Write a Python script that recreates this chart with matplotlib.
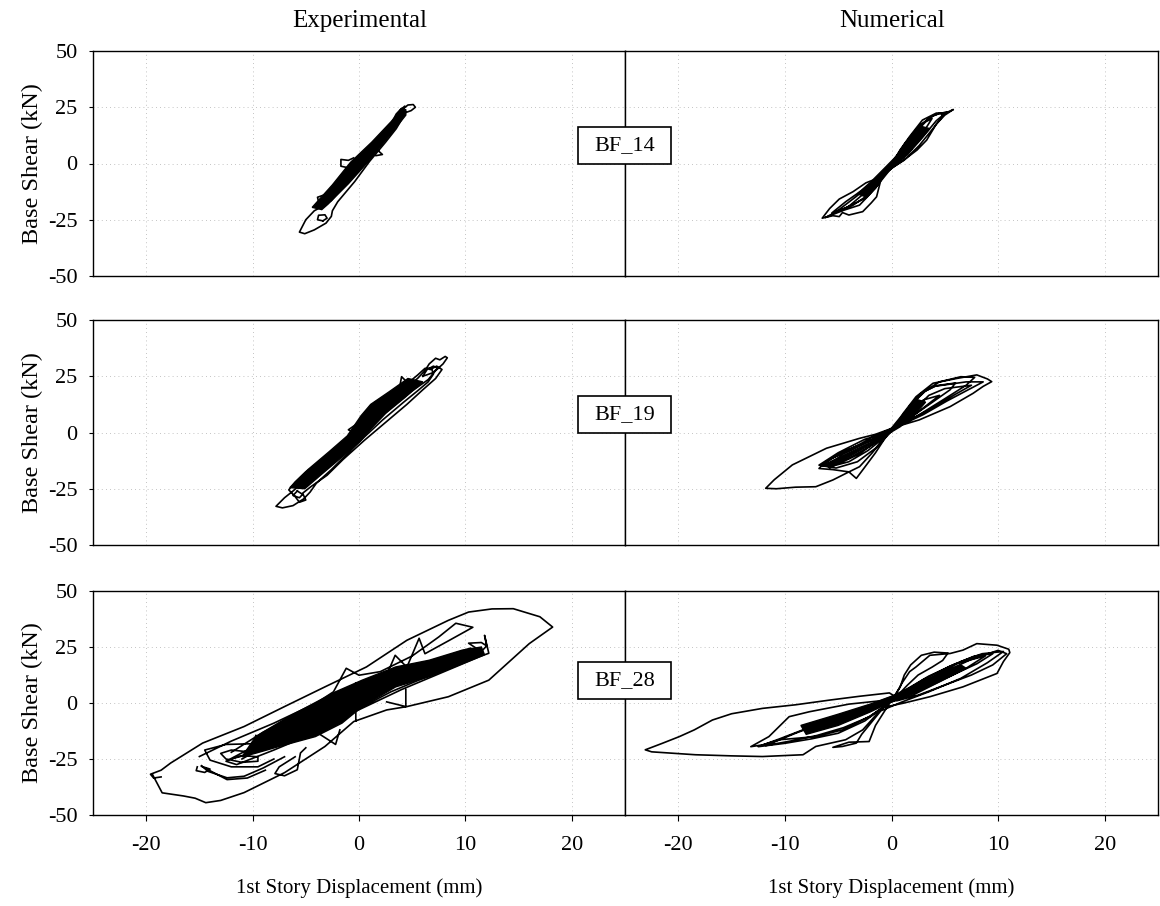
import numpy as np
import matplotlib
matplotlib.use("Agg")
import matplotlib.pyplot as plt
from matplotlib.patches import Rectangle

nan = float("nan")

# ---------------- data (displacement mm, base shear kN) ----------------
x_ticks = [-20, -10, 0, 10, 20]
y_ticks = [-50, -25, 0, 25, 50]
column_titles = ["Experimental", "Numerical"]
specimen_labels = ["BF_14", "BF_19", "BF_28"]

# BF_14 experimental
bf14_exp_x = [0.2, 2.0, 3.6, 4.2, 4.6, 5.1, 5.3, 4.9, 4.3, 3.4, 2.2, 0.5, -1.2, -2.6, -3.3, -2.6, -1.0, 0.8, 2.6, 3.9, 4.3, 3.9, 2.9, 1.2, -0.6, -2.2, -3.4, -4.2, -5.0, -5.6, -5.1, -4.2, -3.1, -2.6, -2.5, -2.0, -0.4, 1.0, 2.5, 3.5, 4.0, 3.5, 2.7, 1.9, 1.2, 0.8,
              nan, -3.4, -3.9, -3.8, -3.2, -3.0, -3.4,
              nan, -0.9, -1.7, -1.7, -1.0, -0.5,
              nan, -3.3, -3.9, -3.8, -3.4,
              nan, 1.5, 2.2, 1.6,
              nan, 4.4, 4.0, 3.5, 3.0, 3.6, 4.4]
bf14_exp_y = [1.5, 11.5, 20.5, 24.5, 26.0, 26.2, 25.0, 23.5, 22.5, 17.0, 10.0, 0.5, -8.0, -15.5, -18.5, -16.5, -7.5, 3.0, 13.5, 22.0, 25.5, 23.8, 16.5, 6.5, -3.5, -12.5, -19.0, -21.0, -25.0, -30.5, -31.2, -29.5, -26.5, -23.5, -21.0, -17.0, -8.0, 1.0, 9.5, 15.5, 19.5, 19.8, 15.5, 10.2, 6.0, 4.5,
              nan, -25.5, -25.0, -23.0, -22.8, -24.3, -25.5,
              nan, -2.0, -1.2, 1.8, 1.4, 2.5,
              nan, -14.0, -15.0, -17.0, -17.5,
              nan, 7.0, 4.0, 3.5,
              nan, 22.8, 24.5, 22.0, 17.5, 18.5, 22.8]
bf14_exp_core_x = [-4.4, -2.5, -0.8, 1.2, 3.0, 3.9, 4.4, 4.4, 2.8, 0.9, -1.0, -2.9, -3.5]
bf14_exp_core_y = [-19.5, -9.5, 0.5, 9.5, 18.5, 23.5, 24.0, 21.5, 12.0, 1.0, -9.0, -18.0, -20.5]

# BF_14 numerical
bf14_num_x = [0.0, 1.2, 2.2, 1.5, 0.3, -1.0, -2.2, -1.4, 0.0,
              1.0, 2.2, 3.2, 3.8, 3.0, 1.8, 0.5, -1.0, -2.5, -4.0, -4.6, -3.6, -2.2, -1.0, 0.0,
              0.8, 1.7, 2.9, 4.2, 5.1, 5.8, 5.0, 4.2, 3.3, 2.4, 1.4, 0.2, -1.0, -2.4, -3.6, -4.9, -5.8, -6.5, -5.5, -4.9, -4.6, -4.0, -2.7, -1.9, -1.4, -1.0, -0.4, 0.4,
              1.2, 2.3, 3.6, 4.6, 4.8, 3.8, 2.6, 1.2, -0.3, -1.8, -3.4, -5.2, -6.2, -4.5, -3.0, -2.0, -1.2, -0.2, 1.0, 2.0, 2.8, 4.0, 5.2, 4.2, 2.8, 1.5, 0.3, -1.3, -2.8, -4.3, -5.6, -4.2, -2.5, -1.5, -0.5, 0.5]
bf14_num_y = [0.0, 6.0, 11.0, 7.0, 1.0, -5.0, -10.5, -8.0, -1.0,
              6.5, 13.5, 18.5, 20.0, 14.0, 6.0, 0.0, -6.5, -13.0, -19.0, -20.5, -18.5, -14.0, -7.0, -1.0,
              6.0, 12.0, 19.3, 22.4, 22.5, 24.0, 21.5, 17.5, 10.4, 6.0, 2.4, -1.5, -6.0, -8.6, -12.5, -15.8, -20.0, -24.3, -23.2, -23.6, -21.8, -22.9, -21.4, -17.5, -14.8, -7.3, -2.5, 2.0,
              8.5, 15.0, 20.5, 22.5, 21.0, 15.0, 8.0, 1.5, -3.0, -9.0, -15.0, -21.5, -24.0, -20.8, -18.5, -13.5, -9.0, -1.0, 7.0, 13.0, 17.5, 21.5, 23.0, 19.0, 11.0, 4.0, -0.5, -7.0, -12.0, -17.0, -22.0, -19.5, -15.5, -11.0, -4.0, 3.0]
bf14_num_core_x = [-3.2, -1.9, -0.6, 0.5, 1.7, 2.8, 3.6, 2.5, 1.1, 0.0, -1.1, -2.3]
bf14_num_core_y = [-13.5, -8.0, -1.8, 3.5, 10.5, 16.5, 15.5, 9.5, 3.0, -2.0, -8.5, -15.0]

# BF_19 experimental
bf19_exp_x = [0.0, 2.0, 4.0, 5.5, 6.2, 6.6, 7.2, 7.6, 8.1, 8.3, 7.9, 7.2, 6.5, 5.0, 3.0, 1.2, -0.8, -3.0, -5.0, -6.2, -7.0, -7.8, -7.2, -6.2, -5.2, -4.6, -4.0, -2.6, -0.8, 0.5, 2.2, 4.2, 5.5, 6.5, 7.0, 6.8, 6.2, 5.5, 4.6, 4.0, 3.8, 3.0, 2.5, 1.5, 0.8, 0.0, -1.0, -0.5, -1.5, -3.5, -5.0, -6.0, -6.6, -6.0, -5.6, -5.0, -5.3, -4.5, -3.0, -1.5, 0.5, 2.5, 4.5, 6.0, 7.2, 7.8, 7.3, 6.7,
              nan, -5.8, -6.2, -5.6, -5.3, -5.8,
              nan, 6.0, 6.4, 7.0, 7.4, 6.9, 6.0]
bf19_exp_y = [1.0, 10.0, 18.5, 24.0, 27.5, 30.5, 33.0, 32.3, 33.8, 33.2, 30.5, 27.5, 23.5, 18.5, 11.0, 3.0, -5.0, -13.5, -21.0, -26.0, -29.0, -32.8, -33.5, -32.5, -29.5, -26.5, -22.5, -16.5, -8.0, -2.0, 5.5, 13.5, 18.5, 22.5, 26.0, 28.5, 28.5, 25.5, 22.0, 24.8, 19.5, 16.5, 15.5, 13.5, 9.0, 4.5, 1.2, 0.0, -5.0, -12.5, -17.5, -22.0, -25.5, -28.5, -31.0, -30.0, -27.0, -24.0, -19.0, -12.0, -3.5, 4.5, 12.5, 19.0, 24.0, 28.0, 29.5, 28.0,
              nan, -26.0, -28.0, -29.0, -27.5, -26.0,
              nan, 25.0, 28.0, 29.5, 28.5, 26.5, 25.0]
bf19_exp_core_x = [-6.5, -4.8, -2.8, -1.1, 0.2, 1.1, 2.8, 4.6, 6.0, 4.3, 2.5, 1.1, 0.1, -1.5, -3.5, -5.1]
bf19_exp_core_y = [-24.5, -16.5, -8.5, -1.5, 7.5, 12.5, 18.0, 24.0, 22.5, 15.5, 8.5, 1.5, -4.0, -10.5, -18.5, -25.0]

# BF_19 numerical
bf19_num_x = [0.4, 1.1, 2.3, 3.9, 6.1, 8.0, 9.0, 9.4, 8.6, 7.65, 5.5, 2.6, 0.4, -1.5, -3.0, -6.1, -9.3, -11.0, -11.8, -10.8, -9.0, -7.1, -5.5, -4.2, -3.0, -1.8, -1.1, -0.3, 0.4,
              1.5, 2.8, 4.5, 6.5, 7.8, 7.0, 5.0, 2.8, 0.4, -2.0, -4.5, -6.3, -6.8, -5.5, -4.0, -3.3, -2.6, -1.5, -0.4,
              1.3, 2.2, 3.2, 4.0, 5.5, 7.0, 8.6, 7.2, 5.2, 3.0, 1.0, -1.0, -3.5, -5.5, -6.5, -5.6, -4.0, -2.2, -0.5, 1.0, 2.2, 3.0, 4.5, 3.0, 1.2, -0.5, -2.5, -4.5, -5.8, -4.0, -2.0, -0.8, 0.4,
              1.8, 3.0, 4.2, 6.0, 5.5, 4.0, 2.2, 0.4, -1.8, -3.8, -6.0, -6.6, -5.0, -3.0, -1.4,
              0.0, -2.5, -5.0, -6.8, -5.2, -3.2, -1.5, 0.0, 2.0, 3.5, 5.0, 7.5, 6.0, 3.5, 1.5]
bf19_num_y = [3.0, 8.5, 15.9, 21.9, 24.0, 25.6, 23.8, 22.6, 20.5, 17.4, 11.5, 5.6, 2.5, -0.8, -2.6, -7.0, -14.4, -21.0, -24.8, -25.0, -24.3, -24.1, -21.1, -18.0, -15.2, -9.0, -4.8, 0.5, 3.0,
              10.0, 17.5, 22.5, 24.8, 24.5, 21.0, 15.0, 8.5, 2.0, -3.5, -8.5, -13.5, -16.0, -16.5, -17.5, -20.4, -16.0, -9.0, -1.0,
              9.0, 14.0, 18.5, 20.5, 21.5, 22.5, 22.5, 19.0, 14.0, 8.0, 3.5, -1.5, -6.5, -11.0, -15.0, -15.0, -13.0, -8.0, -1.5, 5.5, 11.5, 14.5, 16.5, 11.0, 4.5, -0.5, -5.0, -9.5, -14.0, -11.5, -6.0, -2.0, 3.0,
              12.5, 18.0, 20.8, 22.0, 19.0, 14.0, 8.0, 2.5, -2.0, -7.5, -12.5, -14.8, -14.0, -9.5, -4.0,
              0.5, -3.0, -9.0, -14.5, -15.8, -13.0, -7.0, 0.5, 9.5, 16.5, 19.5, 21.0, 17.0, 10.0, 5.0]
bf19_num_core_x = [-6.2, -4.0, -2.0, 0.0, 1.2, 2.5, 3.2, 2.0, 0.8, -1.5, -3.5, -5.8]
bf19_num_core_y = [-14.0, -9.0, -4.5, 2.0, 9.0, 14.5, 13.5, 7.0, 2.5, -4.0, -9.5, -16.0]

# BF_28 experimental
bf28_exp_x = [-19.4, -18.5, -16.5, -15.4, -14.4, -13.0, -10.8, -7.0, -3.2, -0.5, 2.6, 4.5, 8.4, 12.2, 16.0, 18.2, 17.0, 14.5, 12.5, 10.3, 8.4, 4.5, 0.7, -3.2, -7.0, -10.8, -14.7, -17.7, -18.6, -19.6, -19.3, -18.6,
              nan, -11.0, -8.0, -4.0, 0.0, 4.0, 8.0, 11.5, 12.0, 11.8, 12.2, 11.5, 8.0, 4.0, 0.0, -4.0, -8.0, -11.5, -12.5, -10.5, -7.0, -3.0, 1.0, 5.0, 9.0, 11.0, 10.3, 11.5, 12.0,
              nan, -12.0, -9.0, -5.0, -1.0, 3.0, 7.0, 10.5, 11.0, 7.0, 3.0, -1.0, -5.0, -9.0, -12.0,
              nan, -15.0, -12.0, -8.0, -4.0, -2.4, -1.2, 0.0, 2.0, 5.0, 7.5, 9.1, 10.7, 8.5, 6.2, 5.65, 4.5, 3.4, 2.6,
              nan, -0.3, -0.3,
              nan, 2.6, 4.4, 4.4,
              nan, -10.0, -12.0, -13.0, -12.5, -11.0, -9.5, -9.5, -11.0, -11.8,
              nan, -8.5, -12.5, -14.5, -14.0, -12.0, -9.5, -8.0,
              nan, -14.8, -14.2, -12.4, -10.8, -9.0, -7.0,
              nan, -14.5, -12.4, -10.5, -8.8,
              nan, -15.2, -15.3, -14.5, -14.0, -14.8,
              nan, -5.0, -5.5, -5.8, -7.0, -7.9, -7.5, -6.0,
              nan, -9.7, -9.9, -9.0,
              nan, -4.0, -2.2, -1.8]
bf28_exp_y = [-32.0, -40.1, -41.5, -42.5, -44.5, -43.5, -40.0, -31.1, -19.4, -8.3, -3.1, -1.6, 2.8, 10.2, 26.5, 33.9, 38.5, 42.1, 42.0, 40.6, 36.9, 28.0, 16.1, 7.2, -1.6, -10.5, -17.9, -26.8, -30.0, -31.8, -33.5, -33.0,
              nan, -25.0, -17.0, -8.0, 2.0, 10.0, 17.0, 23.0, 25.5, 30.2, 22.2, 21.0, 14.0, 6.0, -3.0, -13.0, -21.0, -27.5, -26.0, -21.0, -12.0, -2.0, 7.0, 14.0, 20.0, 24.5, 26.7, 27.0, 25.5,
              nan, -22.0, -13.0, -3.0, 7.0, 14.0, 19.0, 24.5, 21.0, 13.0, 5.0, -5.0, -14.0, -21.0, -25.0,
              nan, -23.9, -17.0, -9.0, 0.0, 5.0, 15.5, 12.4, 14.0, 21.0, 29.5, 35.6, 33.8, 28.0, 22.0, 28.9, 16.0, 21.3, 12.5,
              nan, 9.0, -8.0,
              nan, 0.5, -1.6, 6.0,
              nan, -22.0, -21.0, -22.5, -25.0, -26.5, -26.0, -24.0, -23.5, -24.5,
              nan, -18.0, -18.5, -21.0, -25.5, -28.5, -28.5, -25.0,
              nan, -28.0, -30.5, -33.4, -32.7, -29.0, -24.0,
              nan, -29.0, -34.2, -33.5, -30.0,
              nan, -28.5, -30.2, -31.0, -29.5, -28.3,
              nan, -20.0, -22.3, -29.8, -32.5, -31.5, -28.5, -24.0,
              nan, -14.5, -19.5, -20.0,
              nan, -13.0, -18.5, -12.0]
bf28_exp_core_x = [-9.7, -6.6, -2.2, 0.3, 3.45, 6.6, 9.7, 11.5, 11.8, 6.6, 3.45, 0.3, -1.6, -4.1, -7.5, -9.7, -11.0]
bf28_exp_core_y = [-15.0, -6.1, 5.0, 10.2, 16.1, 19.1, 23.6, 25.0, 21.5, 11.7, 7.2, -1.6, -9.0, -15.0, -19.4, -22.4, -24.0]

# BF_28 numerical
bf28_num_x = [0.3, -0.2, -3.0, -5.8, -9.0, -12.1, -15.0, -16.8, -18.5, -19.9, -21.5, -23.1, -22.5, -18.4, -15.0, -12.1, -8.3, -7.1, -4.3, -2.7, -1.2, 0.3,
              1.0, 1.7, 2.3, 3.6, 5.5, 6.7, 8.0, 9.9, 11.0, 11.1, 10.5, 9.9, 6.7, 3.6, 1.1, -0.8, -2.1, -4.6, -7.1, -10.5, -12.1, -13.2, -11.5, -9.6, -7.7, -4.0, -1.0, 1.0, 3.0, 5.0, 6.5, 8.5, 9.5, 10.5, 9.0, 6.5, 3.5, 1.0, -1.0, -2.8, -3.3, -4.6, -5.5, -4.0, -2.1, -1.5, -0.5,
              0.8, 1.2, 1.8, 2.8, 4.0, 5.3, 4.8, 3.8, 2.5, 1.5, 0.5,
              3.0, 5.5, 7.8, 9.5, 8.0, 5.5, 3.0, 0.5,
              -3.0, -6.5, -9.0, -11.8, -9.5, -7.0, -4.5, -2.0, 0.0,
              2.5, 5.0, 7.5, 10.0, 10.8, 9.5, 7.5, 5.0, 2.5, 0.5,
              1.0, 3.5, 6.0, 8.8, 7.0, 4.5, 2.0,
              -1.0, -4.0, -7.5, -10.5, -12.5, -10.0, -7.5, -5.0, -2.5, -0.5]
bf28_num_y = [3.0, 4.5, 3.0, 1.3, -0.8, -2.4, -4.8, -7.6, -12.0, -15.0, -18.0, -20.9, -21.8, -23.1, -23.6, -23.9, -23.1, -19.4, -16.4, -12.0, -4.0, 3.0,
              9.0, 14.0, 16.1, 21.3, 22.1, 23.6, 26.5, 25.8, 24.0, 22.5, 18.5, 13.2, 7.2, 2.8, -0.1, -2.0, -6.1, -12.0, -15.0, -16.4, -18.7, -19.5, -15.0, -6.1, -3.9, -0.5, 1.0, 4.5, 9.5, 14.5, 18.5, 22.0, 22.5, 23.0, 18.0, 11.0, 5.0, 0.5, -3.5, -14.0, -17.9, -19.4, -19.8, -17.5, -17.2, -10.0, -2.5,
              7.0, 12.5, 17.0, 21.3, 22.7, 22.3, 19.0, 16.0, 12.5, 8.0, 3.0,
              10.5, 16.5, 21.0, 22.0, 17.5, 12.0, 7.0, 1.5,
              -4.5, -9.0, -13.5, -19.0, -17.0, -14.5, -11.0, -6.0, 1.0,
              8.5, 14.0, 19.5, 23.5, 22.0, 17.0, 12.5, 8.0, 3.5, 1.0,
              5.0, 12.0, 17.5, 21.0, 15.5, 9.5, 3.5,
              -1.0, -5.5, -10.5, -16.0, -19.5, -18.0, -16.0, -13.5, -8.0, -1.0]
bf28_num_core_x = [-8.5, -5.0, -2.0, 0.0, 2.0, 4.5, 6.5, 7.0, 4.5, 2.0, 0.0, -2.0, -5.0, -8.0]
bf28_num_core_y = [-10.0, -5.0, -0.5, 3.0, 7.5, 13.0, 17.0, 15.5, 9.5, 4.0, 0.5, -4.0, -10.0, -14.0]

panels = [
    [(bf14_exp_x, bf14_exp_y, bf14_exp_core_x, bf14_exp_core_y),
     (bf14_num_x, bf14_num_y, bf14_num_core_x, bf14_num_core_y)],
    [(bf19_exp_x, bf19_exp_y, bf19_exp_core_x, bf19_exp_core_y),
     (bf19_num_x, bf19_num_y, bf19_num_core_x, bf19_num_core_y)],
    [(bf28_exp_x, bf28_exp_y, bf28_exp_core_x, bf28_exp_core_y),
     (bf28_num_x, bf28_num_y, bf28_num_core_x, bf28_num_core_y)],
]

# ---------------- figure ----------------
plt.rcParams["font.family"] = ["Liberation Serif", "DejaVu Serif"]
plt.rcParams["axes.unicode_minus"] = False

W, H = 1160, 906
fig = plt.figure(figsize=(W / 100, H / 100), dpi=100)

row_tops = [51, 320, 591]
row_bots = [276, 545, 815]
col_lefts = [93, 625]
col_rights = [625, 1158]

for r in range(3):
    for c in range(2):
        l = col_lefts[c] / W
        w = (col_rights[c] - col_lefts[c]) / W
        b = 1 - row_bots[r] / H
        h = (row_bots[r] - row_tops[r]) / H
        ax = fig.add_axes([l, b, w, h])
        px, py, cx, cy = panels[r][c]
        ax.fill(cx, cy, color="black", lw=1.0, zorder=3)
        ax.plot(px, py, color="black", lw=1.2, zorder=4, solid_joinstyle="round")
        ax.set_xlim(-25, 25)
        ax.set_ylim(-50, 50)
        ax.set_xticks(x_ticks)
        ax.set_yticks(y_ticks)
        for xv in x_ticks:
            ax.axvline(xv, color="#b0b0b0", lw=0.6, ls=(0, (1, 4)), zorder=1)
        for yv in y_ticks[1:-1]:
            ax.axhline(yv, color="#b0b0b0", lw=0.6, ls=(0, (1, 4)), zorder=1)
        for s in ax.spines.values():
            s.set_linewidth(1.0)
            s.set_color("black")
        if c == 0:
            ax.set_yticklabels([str(v) for v in y_ticks], fontsize=16)
            ax.tick_params(axis="y", length=3, width=0.8, pad=8)
            ax.set_ylabel("Base Shear (kN)", fontsize=17.5, labelpad=4)
        else:
            ax.tick_params(axis="y", length=0, labelleft=False)
        if r == 2:
            ax.set_xticklabels([str(v) for v in x_ticks], fontsize=16)
            ax.tick_params(axis="x", length=4, width=0.8, pad=11)
            ax.set_xlabel("1st Story Displacement (mm)", fontsize=15, labelpad=17)
        else:
            ax.tick_params(axis="x", length=0, labelbottom=False)

# column titles
fig.text(360 / W, 1 - 21 / H, column_titles[0], ha="center", va="center", fontsize=18)
fig.text(892 / W, 1 - 21 / H, column_titles[1], ha="center", va="center", fontsize=18)

# specimen label boxes
box_bottoms = [164, 433, 699]
for r in range(3):
    bx, bw, bh = 578, 93, 37
    rect = Rectangle((bx / W, 1 - box_bottoms[r] / H), bw / W, bh / H,
                     transform=fig.transFigure, facecolor="white",
                     edgecolor="black", lw=1.2, zorder=10)
    fig.add_artist(rect)
    fig.text((bx + bw / 2) / W, 1 - (box_bottoms[r] - bh / 2) / H,
             specimen_labels[r], ha="center", va="center", fontsize=16, zorder=11)

fig.savefig("out.png", dpi=100)
